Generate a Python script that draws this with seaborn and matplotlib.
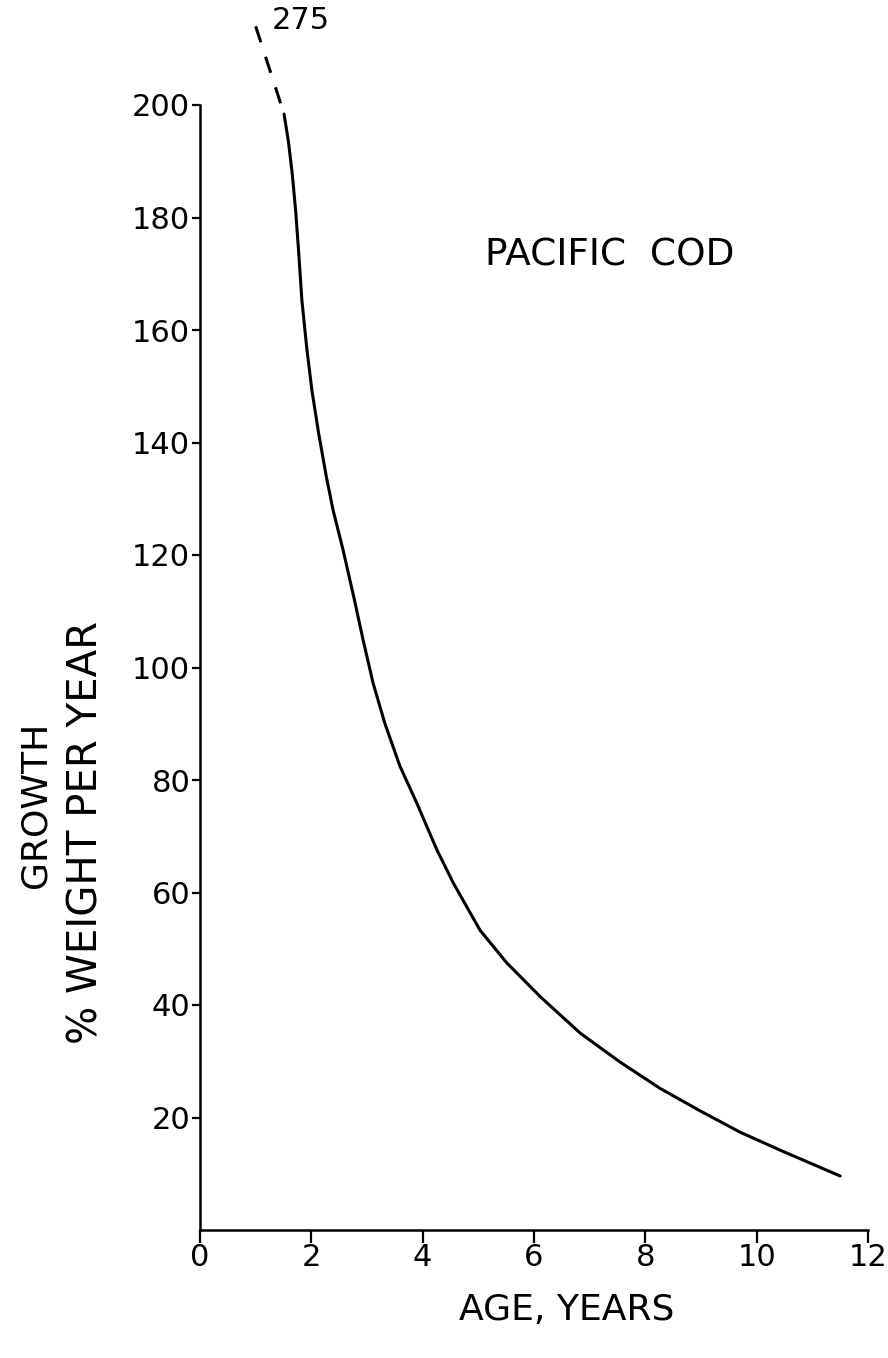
import matplotlib
matplotlib.use("Agg")
import matplotlib.pyplot as plt
import seaborn as sns
import pandas as pd

# ---- data ----
age = [1.51, 1.59, 1.66, 1.72, 1.77, 1.83, 1.92, 2.01, 2.13, 2.27, 2.39, 2.57,
       2.77, 2.93, 3.11, 3.32, 3.59, 3.89, 4.25, 4.55, 5.03, 5.51, 6.11, 6.83,
       7.54, 8.26, 8.98, 9.70, 10.42, 11.50]
growth = [198.4, 193.4, 187.5, 181.0, 174.2, 165.3, 156.6, 149.3, 141.7, 133.9,
          128.0, 120.9, 112.2, 104.9, 97.2, 90.1, 82.5, 76.0, 67.7, 61.7, 53.3,
          47.5, 41.5, 35.0, 29.9, 25.2, 21.2, 17.4, 14.2, 9.6]
ext_age = [1.0, 1.51]
ext_growth = [214.0, 198.4]
ext_label = "275"
x_ticks = [0, 2, 4, 6, 8, 10, 12]
y_ticks = [20, 40, 60, 80, 100, 120, 140, 160, 180, 200]
title_text = "PACIFIC  COD"
xlabel = "AGE, YEARS"
ylabel1 = "GROWTH"
ylabel2 = "% WEIGHT PER YEAR"

sns.set_style("ticks")
plt.rcParams['font.family'] = ['DejaVu Sans']
plt.rcParams['text.color'] = 'black'

fig = plt.figure(figsize=(8.88, 13.58), dpi=100)
ax = fig.add_axes([200/888, 1 - 1230/1358, 668/888, (1230 - 105)/1358])

df = pd.DataFrame({"age": age, "growth": growth})
sns.lineplot(data=df, x="age", y="growth", ax=ax, color="black", linewidth=2.2)

df_ext = pd.DataFrame({"age": ext_age, "growth": ext_growth})
sns.lineplot(data=df_ext, x="age", y="growth", ax=ax, color="black", linewidth=2.2,
             linestyle=(0, (5.5, 5)), clip_on=False)

ax.text(1.29, 215, ext_label, fontsize=22, ha="left", va="center",
        color="black", clip_on=False)
ax.text(7.36, 173.2, title_text, fontsize=27, ha="center", va="center",
        color="black")

ax.set_xlim(0, 12)
ax.set_ylim(0, 200)
ax.set_xticks(x_ticks)
ax.set_xticklabels([str(t) for t in x_ticks])
ax.set_yticks(y_ticks)
ax.set_yticklabels([str(t) for t in y_ticks])
ax.set_xlabel("")
ax.set_ylabel("")

for s in ["top", "right"]:
    ax.spines[s].set_visible(False)
for s in ["left", "bottom"]:
    ax.spines[s].set_linewidth(1.8)
    ax.spines[s].set_color("black")

ax.tick_params(axis="y", direction="out", length=6, width=1.6, pad=1,
               labelsize=22, colors="black")
ax.tick_params(axis="x", direction="out", length=9, width=1.6, pad=0,
               labelsize=22, colors="black")

fig.text(567/888, 1 - 1310/1358, xlabel, fontsize=26, ha="center", va="center",
         color="black")
fig.text(35/888, 1 - 805/1358, ylabel1, fontsize=26, rotation=90,
         ha="center", va="center", color="black")
fig.text(86/888, 1 - 832/1358, ylabel2, fontsize=29, rotation=90,
         ha="center", va="center", color="black")

fig.savefig("out.png", dpi=100, facecolor="white")
